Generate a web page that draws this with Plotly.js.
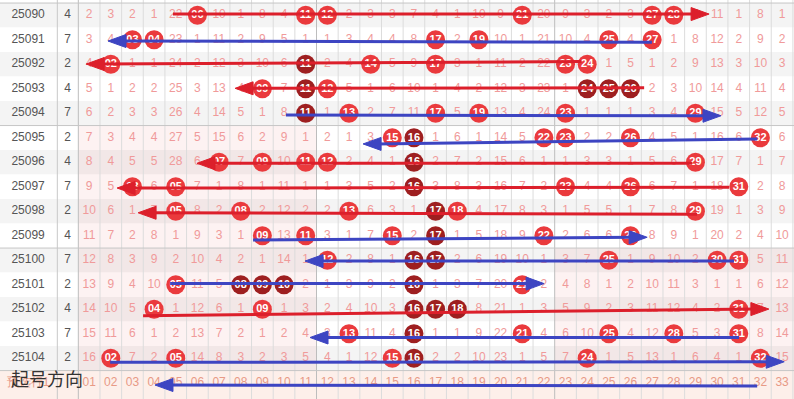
<!DOCTYPE html>
<html><head><meta charset="utf-8">
<script src="https://cdn.plot.ly/plotly-3.0.1.min.js"></script>
<style>html,body{margin:0;padding:0;background:#fff}#chart{width:794px;height:399px}</style>
</head><body><div id="chart"></div>
<script>
// ---------- data ----------
const issues = ['25090','25091','25092','25093','25094','25095','25096','25097','25098','25099','25100','25101','25102','25103','25104'];
const tailDigits = [4,7,2,4,7,2,4,7,2,4,7,2,4,7,2];
const draws = [
  [6,11,12,21,27,28],[3,4,17,19,25,27],[2,11,14,17,23,24],[9,11,12,24,25,26],[11,13,17,19,23,29],
  [15,16,22,23,26,32],[7,9,11,12,16,29],[3,5,16,23,26,31],[5,8,13,17,18,29],[9,11,15,17,22,26],
  [12,16,17,25,30,31],[5,8,9,10,16,21],[4,9,16,17,18,31],[13,16,21,25,28,31],[2,5,15,16,24,32]
];
const heavyBalls = [[],[],[11],[11,24,25,26],[11],[16],[16],[16],[17],[17],[16,17],[8,9,10,16],[16,17,18],[16],[16]];
const missRows = [
  [2,3,2,1,22,null,10,1,8,4, null,null,2,3,3,7,4,1,10,9, null,20,9,3,2,3,null,null,7,11, 1,8,1],
  [3,4,null,null,23,1,11,2,9,5, 1,1,3,4,4,8,null,2,null,10, 1,21,10,4,null,4,null,1,8,12, 2,9,2],
  [4,null,1,1,24,2,12,3,10,6, null,2,4,null,5,9,null,3,1,11, 2,22,null,null,1,5,1,2,9,13, 3,10,3],
  [5,1,2,2,25,3,13,4,null,7, null,null,5,1,6,10,1,4,2,12, 3,23,1,null,null,null,2,3,10,14, 4,11,4],
  [6,2,3,3,26,4,14,5,1,8, null,1,null,2,7,11,null,5,null,13, 4,24,null,1,1,1,3,4,null,15, 5,12,5],
  [7,3,4,4,27,5,15,6,2,9, 1,2,1,3,null,null,1,6,1,14, 5,null,null,2,2,null,4,5,1,16, 6,null,6],
  [8,4,5,5,28,6,null,7,null,10, null,null,2,4,1,null,2,7,2,15, 6,1,1,3,3,1,5,6,null,17, 7,1,7],
  [9,5,null,6,null,7,1,8,1,11, 1,1,3,5,2,null,3,8,3,16, 7,2,null,4,4,null,6,7,1,18, null,2,8],
  [10,6,1,7,null,8,2,null,2,12, 2,2,null,6,3,1,null,null,4,17, 8,3,1,5,5,1,7,8,null,19, 1,3,9],
  [11,7,2,8,1,9,3,1,null,13, null,3,1,7,null,2,null,1,5,18, 9,null,2,6,6,null,8,9,1,20, 2,4,10],
  [12,8,3,9,2,10,4,2,1,14, 1,null,2,8,1,null,null,2,6,19, 10,1,3,7,null,1,9,10,2,null, null,5,11],
  [13,9,4,10,null,11,5,null,null,null, 2,1,3,9,2,null,1,3,7,20, null,2,4,8,1,2,10,11,3,1, 1,6,12],
  [14,10,5,null,1,12,6,1,null,1, 3,2,4,10,3,null,null,null,8,21, 1,3,5,9,2,3,11,12,4,2, null,7,13],
  [15,11,6,1,2,13,7,2,1,2, 4,3,null,11,4,null,1,1,9,22, null,4,6,10,null,4,12,null,5,3, null,8,14],
  [16,null,7,2,null,14,8,3,2,3, 5,4,1,12,null,null,2,2,10,23, 1,5,7,null,1,5,13,1,6,4, 1,null,15]
];
const previewLabel = '预选行1';
const previewNumbers = ['01','02','03','04','05','06','07','08','09','10','11','12','13','14','15','16','17','18','19','20','21','22','23','24','25','26','27','28','29','30','31','32','33'];
const directionLabel = '起号方向';
// arrows (one per row, last is the preview row): tail/tip in column units, y in row units
const arrowGroups = ['red','blue','red','red','blue','blue','red','red','red','blue','blue','blue','red','blue','blue','blue'];
const arrowTails = [4.87,26.99,23.73,26.63,10.09,31.85,28.85,30.55,29.07,8.57,30.78,4.74,3.49,31.01,1.97,31.85];
const arrowTips  = [29.63,1.87,0.86,7.74,30.18,13.65,5.98,2.29,3.26,26.77,10.97,22.01,32.39,11.2,33.1,4.04];
const arrowTailY = [-0.05,1.10,1.89,2.96,4.07,5.05,6.04,7.02,8.12,9.17,10.03,10.95,12.26,13.15,14.16,15.13];
const arrowTipY  = [-0.05,1.05,1.99,2.98,4.10,5.25,6.04,7.05,8.06,9.06,10.03,10.95,11.99,13.15,14.14,15.09];

// ---------- layout constants ----------
const X0 = -3.117, X1 = 33.551, Y0 = -0.624, Y1 = 15.66;
const PX_X = 21.65, PX_Y = 24.5;
const ISSUE_X = -1.82, DIGIT_X = 0.0;
const FONT = 'Liberation Sans, Arial, sans-serif';
const COLORS = {red:'#dc1f2b', blue:'#3d45c2'};

const traces = [];

// issue column + digit column
traces.push({type:'scatter', mode:'text', x:issues.map(()=>ISSUE_X), y:issues.map((_,i)=>i),
  text:issues, textfont:{family:FONT,size:12,color:'#555'}, hoverinfo:'skip'});
traces.push({type:'scatter', mode:'text', x:tailDigits.map(()=>DIGIT_X), y:tailDigits.map((_,i)=>i),
  text:tailDigits.map(String), textfont:{family:FONT,size:12,color:'#555'}, hoverinfo:'skip'});

// miss counts
const mx=[], my=[], mt=[];
missRows.forEach((row,i)=>row.forEach((v,j)=>{ if(v!==null){ mx.push(j+1); my.push(i); mt.push(String(v)); } }));
traces.push({type:'scatter', mode:'text', x:mx, y:my, text:mt,
  textfont:{family:FONT,size:12,color:'#f09a9a'}, hoverinfo:'skip'});

// balls
const pad = n => (n<10?'0':'')+n;
const bx=[],by=[],bt=[],dx=[],dy=[],dt=[];
draws.forEach((row,i)=>row.forEach(n=>{
  if(heavyBalls[i].includes(n)){ dx.push(n); dy.push(i); dt.push(pad(n)); }
  else { bx.push(n); by.push(i); bt.push(pad(n)); }
}));
traces.push({type:'scatter', mode:'markers+text', x:bx, y:by, text:bt,
  marker:{size:19,color:'#ea3a3d',line:{width:0}},
  textfont:{family:FONT,size:11,color:'#fff',weight:'bold'}, hoverinfo:'skip'});
traces.push({type:'scatter', mode:'markers+text', x:dx, y:dy, text:dt,
  marker:{size:19,color:'#9e1f20',line:{width:0}},
  textfont:{family:FONT,size:11,color:'#fff',weight:'bold'}, hoverinfo:'skip'});

// preview row
traces.push({type:'scatter', mode:'text', x:[ISSUE_X], y:[15], text:[previewLabel],
  textfont:{family:FONT,size:12,color:'#e89a86'}, hoverinfo:'skip'});
traces.push({type:'scatter', mode:'text', x:previewNumbers.map((_,j)=>j+1), y:previewNumbers.map(()=>15),
  text:previewNumbers, textfont:{family:FONT,size:12,color:'#e89a86'}, hoverinfo:'skip'});

// arrows
const headL = 18/PX_X, headW = 6.5/PX_Y;
['red','blue'].forEach(g=>{
  const lx=[],ly=[],hx=[],hy=[];
  arrowGroups.forEach((gg,k)=>{
    if(gg!==g) return;
    const d = Math.sign(arrowTips[k]-arrowTails[k]);
    const base = arrowTips[k]-d*headL;
    lx.push(arrowTails[k], base+d*headL*0.3, null);
    ly.push(arrowTailY[k], arrowTipY[k], null);
    hx.push(arrowTips[k], base, base, arrowTips[k], null);
    hy.push(arrowTipY[k], arrowTipY[k]-headW, arrowTipY[k]+headW, arrowTipY[k], null);
  });
  traces.push({type:'scatter', mode:'lines', x:lx, y:ly, line:{color:COLORS[g],width:3}, hoverinfo:'skip', connectgaps:false});
  traces.push({type:'scatter', mode:'lines', x:hx, y:hy, fill:'toself', fillcolor:COLORS[g], line:{color:COLORS[g],width:1}, hoverinfo:'skip'});
});

// ---------- shapes ----------
const shapes = [];
for(let i=0;i<15;i++){
  shapes.push({type:'rect',layer:'below',xref:'x',yref:'y',x0:X0,x1:X1,y0:i-0.5,y1:i+0.5,
    fillcolor:(i%2===0)?'#f4f4f4':'#ffffff',line:{width:0}});
}
shapes.push({type:'rect',layer:'below',xref:'x',yref:'y',x0:X0,x1:X1,y0:14.5,y1:Y1,fillcolor:'#fdefea',line:{width:0}});
shapes.push({type:'rect',layer:'below',xref:'x',yref:'y',x0:0.5,x1:11.5,y0:4.5,y1:14.5,fillcolor:'rgba(235,90,90,0.08)',line:{width:0}});
shapes.push({type:'rect',layer:'below',xref:'x',yref:'y',x0:22.5,x1:X1,y0:9.5,y1:14.5,fillcolor:'rgba(235,90,90,0.08)',line:{width:0}});
for(let j=0;j<=33;j++){
  const strong = (j===0||j===11||j===22);
  shapes.push({type:'line',layer:'below',xref:'x',yref:'y',x0:j+0.5,x1:j+0.5,y0:Y0,y1:Y1,
    line:{color:strong?'#bdbdbd':'#dcdcdc',width:1}});
}
shapes.push({type:'line',layer:'below',xref:'x',yref:'y',x0:-0.47,x1:-0.47,y0:Y0,y1:Y1,line:{color:'#c8c8c8',width:1}});
[-0.5,4.5,9.5,14.5].forEach(y=>shapes.push({type:'line',layer:'below',xref:'x',yref:'y',x0:X0,x1:X1,y0:y,y1:y,line:{color:'#c6c6c6',width:1}}));

const layout = {
  width:794, height:399, margin:{l:0,r:0,t:0,b:0,pad:0},
  xaxis:{range:[X0,X1],visible:false,fixedrange:true},
  yaxis:{range:[Y1,Y0],visible:false,fixedrange:true},
  showlegend:false, plot_bgcolor:'#ffffff', paper_bgcolor:'#ffffff',
  shapes:shapes,
  annotations:[{xref:'x',yref:'y',x:-0.95,y:14.8,text:directionLabel,showarrow:false,
    xanchor:'center',yanchor:'middle',font:{family:'Noto Sans CJK SC, sans-serif',size:18,color:'#333'}}]
};
Plotly.newPlot('chart', traces, layout, {staticPlot:true, displayModeBar:false});
</script></body></html>
